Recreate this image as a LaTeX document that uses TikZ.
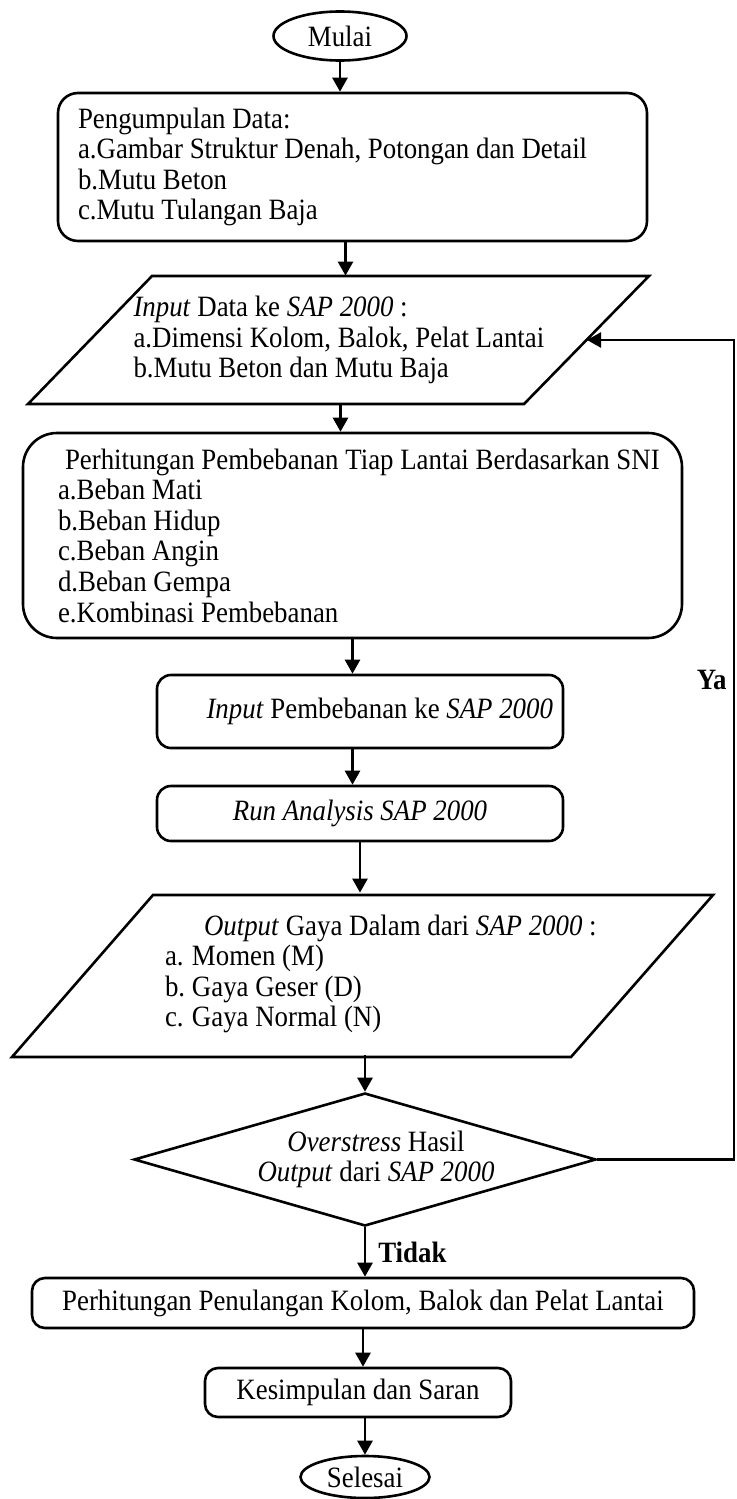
\documentclass[tikz,border=0pt]{standalone}
\usepackage{fontspec}
\setmainfont{Liberation Serif}[FakeStretch=0.91]
\usetikzlibrary{positioning,arrows.meta,shapes.geometric}

\begin{document}
\begin{tikzpicture}[
    x=0.5pt, y=-0.5pt,
    every node/.style={font=\fontsize{14.75pt}{15.3pt}\selectfont},
    frame/.style={draw=black, line width=1.3pt, line join=miter},
    arrow/.style={-{Triangle[width=7.5pt,length=7pt]}, line width=1.3pt},
    terminal/.style={frame, ellipse, inner sep=0pt},
    process/.style={frame, rectangle, rounded corners=6.5pt, inner sep=0pt},
    listbox/.style={frame, rectangle, align=flush left},
    iotext/.style={inner sep=0pt, align=flush left},
    decision/.style={frame, diamond, aspect=3.45, inner sep=0pt, align=center},
    lbl/.style={font=\fontsize{14.75pt}{15.3pt}\selectfont\bfseries, inner sep=0pt},
]
\useasboundingbox (0,0) rectangle (737,1499);

% --- Start ---
\node[terminal, minimum width=66.5pt, minimum height=24.5pt] (mulai) at (340,36) {Mulai};

% --- Data collection ---
\node[listbox, rounded corners=10pt, inner xsep=10pt, text width=274.5pt,
      minimum height=74pt] (data) at (352.5,167)
     {Pengumpulan Data:\\
      a.Gambar Struktur Denah, Potongan dan Detail\\
      b.Mutu Beton\\
      c.Mutu Tulangan Baja};

% --- Input data to SAP (parallelogram drawn round the text) ---
\draw[frame] (152,276) -- (649,276) -- (524,404) -- (28,404) -- cycle;
\node[iotext, text width=212pt, minimum height=64pt] (input) at (345.5,340)
     {\textit{Input} Data ke \textit{SAP 2000} :\\
      a.Dimensi Kolom, Balok, Pelat Lantai\\
      b.Mutu Beton dan Mutu Baja};
\coordinate (inR) at (587,340);

% --- Loads ---
\node[listbox, rounded corners=17pt, inner xsep=17.5pt, text width=294.5pt,
      minimum height=102.5pt] (beban) at (352.5,535.5)
     {\mbox{\hspace*{3.5pt}Perhitungan Pembebanan Tiap Lantai Berdasarkan SNI}\\
      a.Beban Mati\\
      b.Beban Hidup\\
      c.Beban Angin\\
      d.Beban Gempa\\
      e.Kombinasi Pembebanan};

\node[process, rounded corners=7pt, inner xsep=5pt, text width=193pt, align=flush right,
      minimum height=36.5pt] (inpbeban) at (360,711.5)
     {\textit{Input} Pembebanan ke \textit{SAP 2000}};
\node[process, rounded corners=7pt, minimum width=203pt, minimum height=27.5pt]
     (run) at (360,813.5) {\textit{Run Analysis SAP 2000}};

% --- Output (parallelogram drawn round the text) ---
\draw[frame] (153,895) -- (713,895) -- (571,1057) -- (12,1057) -- cycle;
\node[iotext, text width=222pt, minimum height=81pt] (output) at (387,974)
     {\hspace*{19.5pt}\textit{Output} Gaya Dalam dari \textit{SAP 2000} :\\
      \makebox[13.5pt][l]{a.}Momen (M)\\
      \makebox[13.5pt][l]{b.}Gaya Geser (D)\\
      \makebox[13.5pt][l]{c.}Gaya Normal (N)};

% --- Check ---
\node[decision, minimum width=231pt, minimum height=66.5pt] (cek) at (365,1159.5)
     {\hspace*{11pt}\textit{Overstress} Hasil\\
      \hspace*{11pt}\textit{Output} dari \textit{SAP 2000}};

\node[process, minimum width=331pt, minimum height=25pt] (tulangan) at (363,1303)
     {Perhitungan Penulangan Kolom, Balok dan Pelat Lantai};
\node[process, minimum width=153pt, minimum height=24.5pt] (simpulan) at (358,1392.5)
     {Kesimpulan dan Saran};

% --- End ---
\node[terminal, minimum width=64.5pt, minimum height=21pt] (selesai) at (365,1477) {Selesai};

% --- Connectors ---
\draw[arrow] (mulai) -- (mulai |- data.north);
\draw[arrow] (data.south -| input.north) -- (input.north);
\draw[arrow] ([xshift=-2.5pt]input.south) -- ([xshift=-2.5pt]input.south |- beban.north);
\draw[arrow] (beban.south) -- (beban.south |- inpbeban.north);
\draw[arrow] (beban.south |- inpbeban.south) -- (beban.south |- run.north);
\draw[arrow] (run.south) -- (run.south |- output.north);
\draw[arrow] (output.south -| cek.north) -- (cek.north);
\draw[arrow] (cek.south) -- (cek.south |- tulangan.north)
     node[lbl, midway, right=6pt] (tidak) {Tidak};
\draw[arrow] (tulangan.south) -- (tulangan.south |- simpulan.north);
\draw[arrow] (simpulan.south -| selesai.north) -- (selesai.north);

% --- Loop back when overstressed ---
\coordinate (loop) at (734,680);
\draw[arrow] (cek.east) -| (loop) |- (inR);
\node[lbl, left=3.5pt of loop] (ya) {Ya};

\end{tikzpicture}
\end{document}
